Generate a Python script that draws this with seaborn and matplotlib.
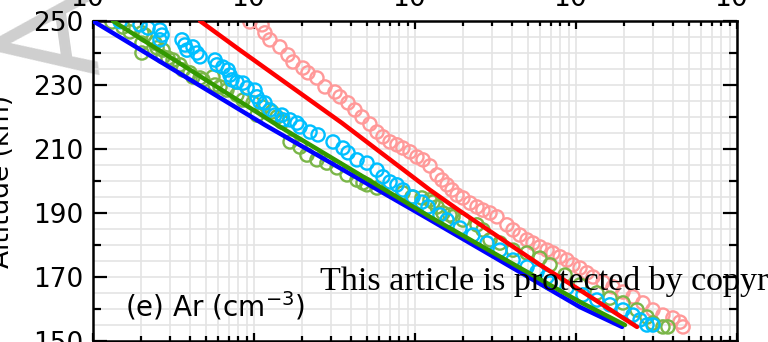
import numpy as np
import pandas as pd
import seaborn as sns
import matplotlib.pyplot as plt
from matplotlib.ticker import LogLocator, MultipleLocator, NullFormatter

# log10 of Ar density (cm^-3) and altitude (km)
pink_logn = [5.975, 6.050, 6.068, 6.099, 6.161, 6.211, 6.242, 6.304, 6.335, 6.391,
             6.441, 6.503, 6.534, 6.584, 6.627, 6.671, 6.720, 6.764, 6.801, 6.845,
             6.888, 6.925, 6.969, 7.012, 7.050, 7.093, 7.137, 7.168, 7.199, 7.230,
             7.261, 7.298, 7.342, 7.385, 7.422, 7.466, 7.509, 7.571, 7.609, 7.652,
             7.696, 7.733, 7.776, 7.820, 7.857, 7.901, 7.944, 7.981, 8.025, 8.068,
             8.106, 8.168, 8.230, 8.292, 8.354, 8.416, 8.478, 8.540, 8.602, 8.646, 8.665]
pink_alt = [249.7, 248.8, 246.3, 244.1, 241.9, 239.4, 237.2, 235.3, 233.8, 232.2,
            229.4, 227.8, 226.3, 224.4, 222.2, 220.0, 217.8, 215.3, 213.8, 212.2,
            211.3, 210.3, 209.1, 207.5, 206.6, 204.7, 201.9, 200.3, 198.8, 197.2,
            195.6, 194.7, 193.1, 191.9, 190.9, 190.0, 188.8, 186.3, 184.7, 183.1,
            181.6, 180.6, 179.4, 178.4, 177.5, 176.3, 175.3, 173.8, 172.8, 171.3,
            170.0, 168.4, 166.9, 165.3, 163.8, 161.9, 159.7, 158.1, 157.2, 155.9, 154.4]

cyan_logn = [5.168, 5.292, 5.342, 5.416, 5.429, 5.416, 5.553, 5.571, 5.584, 5.621,
             5.646, 5.665, 5.758, 5.770, 5.807, 5.839, 5.851, 5.863, 5.894, 5.932,
             5.957, 6.006, 6.019, 6.037, 6.068, 6.099, 6.130, 6.174, 6.180, 6.224,
             6.267, 6.286, 6.348, 6.398, 6.491, 6.553, 6.584, 6.640, 6.702, 6.764,
             6.801, 6.845, 6.888, 6.925, 6.988, 7.043, 7.081, 7.155, 7.199, 7.280,
             7.360, 7.447, 7.528, 7.609, 7.696, 7.758, 7.820, 7.839, 7.944, 8.043,
             8.130, 8.211, 8.292, 8.354, 8.398, 8.441, 8.478]
cyan_alt = [249.8, 248.8, 247.8, 247.2, 245.6, 244.1, 244.1, 242.5, 240.9, 241.9,
            240.0, 238.8, 237.8, 236.3, 235.6, 234.7, 233.1, 231.6, 230.9, 230.6,
            229.1, 228.4, 226.3, 224.7, 224.4, 222.2, 220.6, 220.6, 219.1, 219.1,
            218.1, 216.9, 215.3, 214.4, 212.2, 210.3, 208.8, 206.6, 205.6, 203.4,
            201.3, 199.7, 198.8, 197.2, 195.0, 193.4, 191.9, 189.4, 187.8, 185.3,
            183.1, 180.6, 178.4, 175.3, 173.1, 171.6, 170.0, 168.1, 166.6, 164.4,
            162.8, 161.3, 159.7, 158.1, 156.6, 155.0, 155.0]

green_logn = [5.118, 5.186, 5.230, 5.304, 5.323, 5.304, 5.304, 5.385, 5.398, 5.435,
              5.435, 5.466, 5.497, 5.540, 5.559, 5.602, 5.621, 5.665, 5.683, 5.745,
              5.758, 5.789, 5.832, 5.894, 5.932, 5.994, 6.019, 6.056, 6.112, 6.143,
              6.174, 6.224, 6.286, 6.329, 6.391, 6.453, 6.516, 6.578, 6.640, 6.677,
              6.702, 6.764, 6.925, 6.981, 7.043, 7.093, 7.112, 7.137, 7.174, 7.217,
              7.236, 7.298, 7.385, 7.422, 7.466, 7.528, 7.609, 7.696, 7.776, 7.839,
              7.932, 8.025, 8.130, 8.211, 8.292, 8.379, 8.441, 8.478, 8.540, 8.571]
green_alt = [249.7, 248.1, 246.6, 246.3, 245.6, 243.1, 240.0, 243.1, 241.6, 240.9,
             238.8, 238.4, 237.8, 236.3, 234.7, 233.8, 232.5, 232.2, 231.6, 232.5,
             230.0, 229.4, 228.4, 226.9, 225.3, 224.4, 220.6, 223.1, 221.6, 220.0,
             218.4, 212.2, 210.6, 208.1, 206.6, 205.6, 204.1, 201.9, 200.3, 199.4,
             198.8, 197.8, 196.3, 195.0, 194.7, 194.1, 193.4, 191.9, 190.0, 189.4,
             188.8, 187.8, 186.3, 184.7, 181.6, 180.6, 178.4, 177.5, 175.9, 173.8,
             170.6, 167.5, 165.0, 163.4, 161.9, 159.7, 157.5, 155.6, 154.4, 154.4]

red_logn = [5.665, 5.913, 6.547, 7.093, 7.280, 7.776, 8.025, 8.379]
red_alt = [250.0, 240.9, 218.1, 197.2, 190.6, 173.8, 165.9, 154.4]
blue_logn = [5.000, 6.068, 7.075, 8.025, 8.286]
blue_alt = [250.0, 217.5, 188.4, 160.6, 154.4]
dkgreen_logn = [5.124, 6.143, 7.093, 8.025, 8.304]
dkgreen_alt = [250.0, 217.5, 188.8, 162.2, 155.0]

sns.set_style('ticks')
plt.rcParams['font.family'] = ['DejaVu Sans']
plt.rcParams['text.color'] = 'black'
plt.rcParams['axes.labelcolor'] = 'black'
plt.rcParams['xtick.color'] = 'black'
plt.rcParams['ytick.color'] = 'black'

fig = plt.figure(figsize=(7.68, 3.42), dpi=100)
ax = fig.add_axes([93 / 768, 1 / 342, 644 / 768, 320 / 342])
ax.set_facecolor('none')

for y in np.arange(150, 251, 5):
    ax.axhline(y, color='#e4e4e4', lw=1.2, zorder=0)

obs = [(pink_logn, pink_alt, '#ff9999'),
       (green_logn, green_alt, '#7ab648'),
       (cyan_logn, cyan_alt, '#00bfff')]
for logn, alt, col in obs:
    df = pd.DataFrame({'n': 10 ** np.array(logn), 'alt': alt})
    sns.scatterplot(data=df, x='n', y='alt', ax=ax, s=90, marker='o',
                    color=col, facecolor='none', edgecolor=col, linewidth=1.7,
                    legend=False, zorder=2)

models = [(blue_logn, blue_alt, '#0000ff'),
          (dkgreen_logn, dkgreen_alt, '#339900'),
          (red_logn, red_alt, '#ff0000')]
for logn, alt, col in models:
    df = pd.DataFrame({'n': 10 ** np.array(logn), 'alt': alt})
    sns.lineplot(data=df, x='n', y='alt', ax=ax, color=col, lw=3.2,
                 sort=False, estimator=None, legend=False, zorder=3)

ax.set_xscale('log')
ax.set_xlim(1e5, 1e9)
ax.set_ylim(150, 250)
ax.set_xlabel('')
ax.set_ylabel('')
ax.xaxis.set_major_locator(LogLocator(base=10, numticks=10))
ax.xaxis.set_minor_locator(LogLocator(base=10, subs=np.arange(2, 10), numticks=20))
ax.xaxis.set_minor_formatter(NullFormatter())
ax.set_yticks(np.arange(150, 251, 20))
ax.yaxis.set_minor_locator(MultipleLocator(10))
ax.grid(which='both', axis='x', color='#e4e4e4', lw=1.2)
ax.set_axisbelow(True)

ax.tick_params(axis='both', which='both', direction='in', top=True, right=True,
               width=1.6, color='black')
ax.tick_params(axis='y', which='major', length=10, pad=7, labelsize=19)
ax.tick_params(axis='y', which='minor', length=6)
ax.tick_params(axis='x', which='major', length=6, pad=6, labelsize=19,
               labeltop=True, labelbottom=False)
ax.tick_params(axis='x', which='minor', length=3.5)
for sp in ax.spines.values():
    sp.set_color('black')
    sp.set_linewidth(1.8)

fig.text(15 / 768, 0.47, 'Altitude (km)', rotation=90, ha='right', va='center',
         fontsize=19)
ax.text((125 - 93) / 644, 0.075, '(e) Ar (cm$^{-3}$)',
        transform=ax.transAxes, fontsize=20, va='baseline')

fig.text(58 / 768, 1 - 34 / 342, 'A', rotation=98, ha='center', va='center',
         fontsize=95, color='#cfcfcf', zorder=-1)
fig.text(320 / 768, 1 - 290 / 342,
         'This article is protected by copyright. All rights reserved.',
         family='Liberation Serif', fontsize=24.5, color='black', va='baseline',
         zorder=6)

fig.savefig('out.png', dpi=100, facecolor='white')
